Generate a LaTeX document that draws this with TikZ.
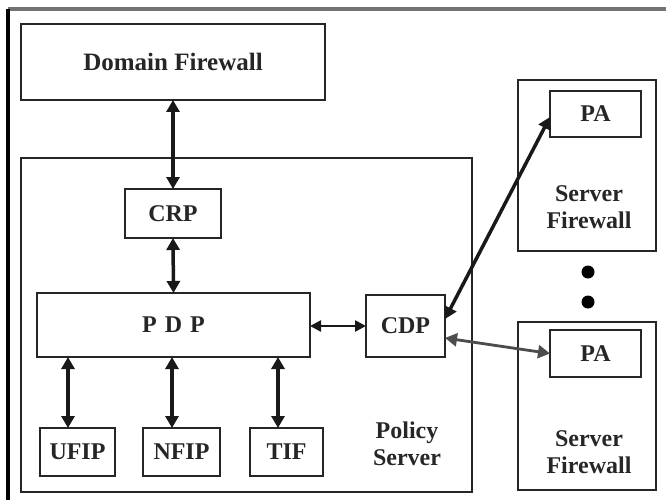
\documentclass[tikz,border=0pt]{standalone}
\usepackage{fontspec}
\setmainfont{Liberation Serif}
\usetikzlibrary{arrows.meta}
\definecolor{edge}{HTML}{262626}
\tikzset{
  box/.style={draw=edge, line width=2.6pt, rectangle, inner sep=0pt, outer sep=0pt, align=center,
    font=\bfseries\fontsize{24}{27}\selectfont, text=black!85},
  lbl/.style={align=center, inner sep=0pt, font=\bfseries\fontsize{24}{27}\selectfont, text=black!85},
  arr/.style={line width=3.5pt, draw=black!90, {Triangle[length=12pt,width=13pt]}-{Triangle[length=12pt,width=13pt]}},
  thinarr/.style={line width=2.8pt, draw=black!70, {Triangle[length=12pt,width=13pt]}-{Triangle[length=12pt,width=13pt]}},
  dotmark/.style={circle, fill=black, inner sep=0pt, minimum size=13pt}
}
\begin{document}
\begin{tikzpicture}[x=1pt,y=-1pt]
\useasboundingbox (0,0) rectangle (666,500);
% outer frame (partial)
\coordinate (ftl) at (8,9);
\coordinate (ftr) at (666,9);
\coordinate (fbl) at (8,500);
\draw[line width=3.5pt, draw=black!55] (ftl) -- (ftr);
\draw[line width=3.5pt, draw=black] (ftl) -- (fbl);

% boxes
\node[box, minimum width=304pt, minimum height=76pt, font=\bfseries\fontsize{25}{27}\selectfont] (dom) at (173,62) {Domain Firewall};
\node[box, minimum width=451pt, minimum height=334pt] (ps) at (246.5,325) {};
\node[lbl] (pslbl) at (407,444) {Policy\\Server};
\node[box, minimum width=96pt, minimum height=49pt] (crp) at (173,213.5) {CRP};
\node[box, minimum width=273pt, minimum height=64pt] (pdp) at (173.5,325) {P\,\,D\,\,P};
\node[box, minimum width=75pt, minimum height=48pt] (ufip) at (77.5,452) {UFIP};
\node[box, minimum width=77pt, minimum height=48pt] (nfip) at (181.5,452) {NFIP};
\node[box, minimum width=73pt, minimum height=48pt] (tif) at (286.5,452) {TIF};
\node[box, minimum width=79pt, minimum height=62pt] (cdp) at (405.5,326) {CDP};

\node[box, minimum width=138pt, minimum height=171pt] (sf1) at (587,165.5) {};
\node[box, minimum width=91pt, minimum height=46pt] (pa1) at (595.5,114) {PA};
\node[lbl] (sf1lbl) at (589,207) {Server\\Firewall};
\node[box, minimum width=138pt, minimum height=168pt] (sf2) at (587,406) {};
\node[box, minimum width=91pt, minimum height=47pt] (pa2) at (595.5,353.5) {PA};
\node[lbl] (sf2lbl) at (589,452) {Server\\Firewall};

\node[dotmark] (dot1) at (588,272) {};
\node[dotmark] (dot2) at (588,302) {};

% connectors
\draw[arr] (dom.south) -- (crp.north);
\draw[arr] (crp.south) -- (pdp.north);
\draw[arr] ([xshift=-9.5pt]ufip.north |- pdp.south) -- ([xshift=-9.5pt]ufip.north);
\draw[arr] ([xshift=-9.5pt]nfip.north |- pdp.south) -- ([xshift=-9.5pt]nfip.north);
\draw[arr] ([xshift=-8.5pt]tif.north |- pdp.south) -- ([xshift=-8.5pt]tif.north);
\draw[line width=2.5pt, draw=black!90, {Triangle[length=11pt,width=11pt]}-{Triangle[length=11pt,width=11pt]}] ([yshift=-1pt]pdp.east) -- ([yshift=-1pt]pdp.east -| cdp.west);
\draw[arr] ([yshift=7pt]cdp.east) -- ([yshift=-3pt]pa1.west);
\draw[thinarr] ([yshift=-12pt]cdp.east) -- (pa2.west);
\end{tikzpicture}
\end{document}
